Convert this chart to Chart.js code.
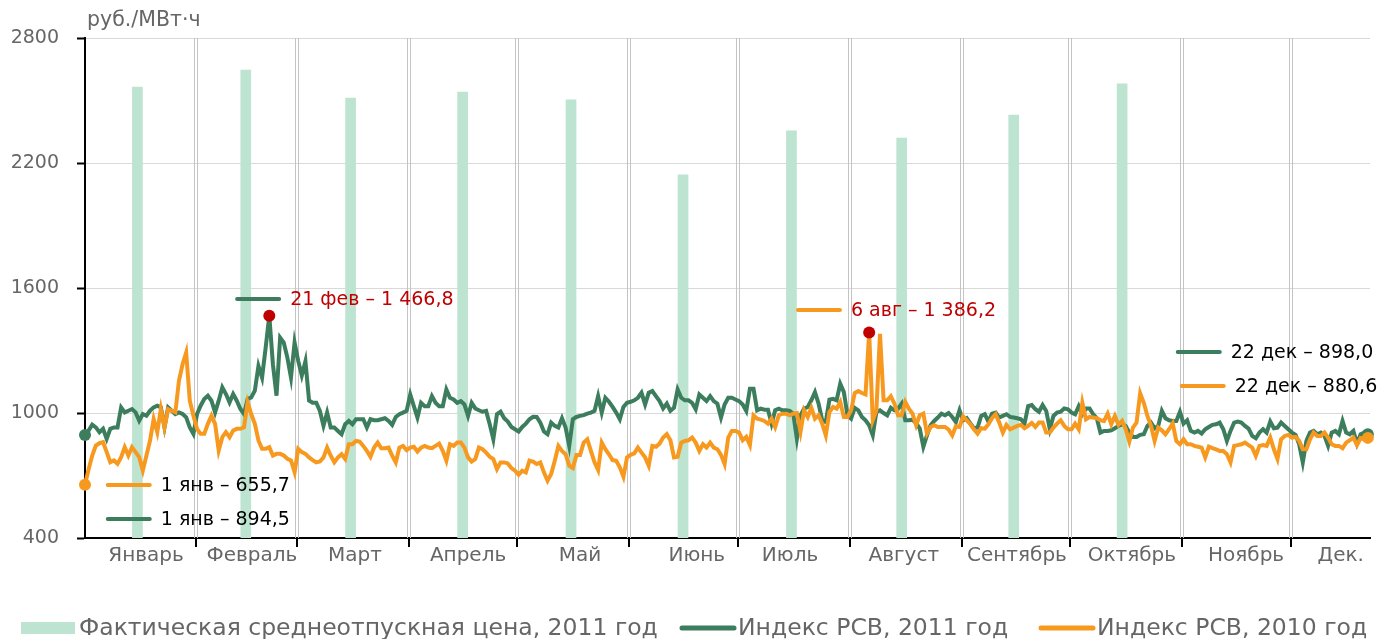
<!DOCTYPE html>
<html><head><meta charset="utf-8">
<script src="https://cdn.jsdelivr.net/npm/chart.js@4.4.1/dist/chart.umd.min.js"></script>
<style>html,body{margin:0;padding:0;background:#fff}#wrap{width:1377px;height:639px;position:relative}</style>
</head><body><div id="wrap"><canvas id="c"></canvas></div>
<script>
const monthNames = ['Январь','Февраль','Март','Апрель','Май','Июнь','Июль','Август','Сентябрь','Октябрь','Ноябрь','Дек.'];
const monthStartDays = [0,31,59,90,120,151,181,212,243,273,304,334];
const monthLabelDays = [16.9,46.2,74.7,106,137,169.3,195.1,226.6,257.9,289.7,321.3,347.5];
const barDays = [14.5,44.5,73.5,104.5,134.5,165.5,195.5,226,257,287];
const barValues = [2565,2646,2512,2541,2503,2143,2354,2320,2430,2580];
const yTicks = [400,1000,1600,2200,2800];

const index2011 = [
894.5,916,944,931,908,924,876,924,931,931,
1027,1003,1011,1019,1003,963,995,987,1011,1027,
1035,1027,931,1027,1011,995,1003,995,979,931,
900,995,1035,1067,1083,1059,1003,1059,1123,1091,
1051,1091,1059,1019,995,1067,1075,1107,1226,1170,
1314,1466.8,1234,1083,1362,1338,1266,1170,1338,1250,
1180,1248,1060,1049,1049,1010,939,1002,930,930,
914,898,946,962,946,970,970,970,930,970,
965,965,970,975,962,943,981,994,1002,1010,
1089,1033,978,1049,1033,1033,1081,1049,1033,1033,
1113,1073,1065,1049,1057,1041,986,1049,1022,1013,
1006,1010,946,874,994,1006,975,959,933,922,
911,933,949,970,982,981,954,911,898,954,
938,930,975,930,842,970,981,986,990,997,
1002,1010,1081,1002,1073,1054,1029,1002,970,1029,
1049,1054,1061,1073,1097,1041,1097,1105,1081,1057,
1022,1045,1010,1025,1113,1073,1061,1061,1049,1018,
1089,1073,1057,1081,1057,1045,978,1041,1073,1073,
1065,1057,1041,1010,1116,1116,1013,1021,1016,1016,
949,1013,1021,1013,1013,1010,997,877,989,1021,
1029,1061,1100,1045,965,957,1064,1068,1061,1140,
1100,989,973,1025,1013,981,965,941,893,1005,
1013,1000,989,1025,1013,1021,1045,965,965,968,
952,925,838,893,941,962,978,997,989,1000,
981,957,1013,965,975,950,927,930,986,994,
959,997,1002,978,986,994,981,978,975,970,
949,1033,1038,1018,1006,1038,1010,922,986,1002,
1006,1022,1018,1002,994,1033,994,1022,1022,994,
975,906,914,914,917,927,938,946,938,906,
885,885,895,898,938,954,927,938,1010,975,
965,962,962,1006,949,965,914,906,914,901,
922,933,943,946,954,922,866,914,954,959,
954,938,925,890,879,906,922,906,959,927,
930,954,938,922,906,895,850,763,866,906,
914,898,906,890,842,906,914,898,962,906,
898,914,853,898,906,898.0];

const index2010 = [
655.7,730,796,844,855,860,812,764,772,756,
788,836,796,836,812,788,724,796,868,971,
908,1019,931,1019,1011,1003,1155,1234,1290,1059,
987,924,900,900,948,987,948,820,884,908,
884,916,924,924,931,1051,995,948,868,828,
828,836,796,804,804,796,780,772,716,828,
812,804,787,774,763,767,787,834,795,763,
787,802,779,850,850,866,863,842,818,790,
834,858,831,831,834,795,763,834,842,822,
834,838,815,834,842,834,831,842,853,818,
771,850,842,858,858,834,787,767,779,834,
826,810,790,779,731,763,763,758,736,723,
704,723,715,771,767,755,763,715,675,707,
771,842,818,802,747,736,799,799,858,874,
818,763,726,858,826,802,774,771,739,694,
787,799,806,834,810,787,747,842,838,853,
882,898,869,787,790,858,866,869,882,858,
818,850,834,858,834,826,799,755,882,914,
914,906,869,885,846,989,973,968,962,949,
973,933,989,997,997,989,997,1000,909,1013,
981,1025,973,989,949,893,1005,1029,1021,1053,
981,981,1013,1096,1105,1096,1089,1386.2,965,1013,
1380,1061,1061,1080,1045,989,989,1053,1021,997,
941,989,997,901,933,941,933,933,933,920,
893,936,933,984,965,946,922,901,927,925,
946,975,994,954,906,943,922,930,938,943,
927,938,952,933,954,954,906,906,930,949,
965,938,922,922,949,922,1049,970,981,978,
975,965,962,997,946,986,943,962,922,863,
930,954,1095,1049,986,938,866,930,917,898,
922,950,866,850,874,850,850,842,838,834,
787,838,831,825,818,818,802,763,842,846,
850,858,846,834,794,842,846,842,882,826,
779,874,890,895,882,885,866,826,826,874,
906,890,890,906,882,850,842,842,831,858,
869,882,846,879,874,880.6];

const peak2011 = 51;   // 21 фев
const peak2010 = 217;  // 6 авг

const seriesNames = ['Фактическая среднеотпускная цена, 2011 год','Индекс РСВ, 2011 год','Индекс РСВ, 2010 год'];
const unitLabel = 'руб./МВт·ч';

const callouts = [
  {day:42.1, value:1547, text:'21 фев – 1 466,8', color:'#C00000', series:1},
  {day:197.3, value:1494, text:'6 авг – 1 386,2', color:'#C00000', series:2},
  {day:6.3, value:654, text:'1 янв – 655,7', color:'#000000', series:2},
  {day:6.3, value:491, text:'1 янв – 894,5', color:'#000000', series:1},
  {day:302.4, value:1293, text:'22 дек – 898,0', color:'#000000', series:1},
  {day:303.5, value:1130, text:'22 дек – 880,6', color:'#000000', series:2}
];

const GREEN = '#3B7D5C', ORANGE = '#F7991E', MINT = '#BDE3D1', RED = '#C00000';
const FONT = 'DejaVu Sans';
const seriesColors = [MINT, GREEN, ORANGE];

function endPoints(last, peak, color) {
  return {
    radius: c => (c.dataIndex === 0 || c.dataIndex === last || c.dataIndex === peak) ? 6 : 0,
    bg: c => c.dataIndex === peak ? RED : color
  };
}
const g = endPoints(index2011.length - 1, peak2011, GREEN);
const o = endPoints(index2010.length - 1, peak2010, ORANGE);

const decor = {
  id: 'decor',
  beforeDatasetsDraw(chart) {
    const {ctx, chartArea: a, scales: {x}} = chart;
    ctx.save();
    ctx.strokeStyle = '#C4C4C4';
    ctx.lineWidth = 1;
    monthStartDays.slice(1).forEach(d => {
      const px = Math.round(x.getPixelForValue(d - 0.4));
      [-1.5, 1.5].forEach(off => {
        ctx.beginPath();
        ctx.moveTo(px + off, a.top);
        ctx.lineTo(px + off, a.bottom);
        ctx.stroke();
      });
    });
    ctx.restore();
  },
  afterDraw(chart) {
    const {ctx, chartArea: a, scales: {x, y}} = chart;
    ctx.save();
    ctx.strokeStyle = '#000';
    ctx.lineWidth = 2;
    monthStartDays.slice(1).forEach(d => {
      const px = Math.round(x.getPixelForValue(d - 0.4));
      ctx.beginPath();
      ctx.moveTo(px, a.bottom);
      ctx.lineTo(px, a.bottom + 9);
      ctx.stroke();
    });
    ctx.fillStyle = '#666';
    ctx.font = '20.5px "' + FONT + '"';
    ctx.textBaseline = 'middle';
    ctx.textAlign = 'left';
    ctx.fillText(unitLabel, a.left + 2, a.top - 17);
    ctx.font = '19px "' + FONT + '"';
    callouts.forEach(c => {
      const px = x.getPixelForValue(c.day);
      const py = y.getPixelForValue(c.value);
      ctx.strokeStyle = seriesColors[c.series];
      ctx.lineWidth = 4;
      ctx.lineCap = 'round';
      ctx.beginPath();
      ctx.moveTo(px, py);
      ctx.lineTo(px + 42, py);
      ctx.stroke();
      ctx.fillStyle = c.color;
      ctx.fillText(c.text, px + 53, py + 1);
    });
    const ly = 628;
    ctx.font = '23.5px "' + FONT + '"';
    const items = [{x:21, type:'rect'}, {x:680, type:'line'}, {x:1039, type:'line'}];
    items.forEach((it, i) => {
      if (it.type === 'rect') {
        ctx.fillStyle = MINT;
        ctx.fillRect(it.x, ly - 6, 54, 12);
      } else {
        ctx.strokeStyle = seriesColors[i];
        ctx.lineWidth = 5;
        ctx.lineCap = 'round';
        ctx.beginPath();
        ctx.moveTo(it.x + 2, ly);
        ctx.lineTo(it.x + 54, ly);
        ctx.stroke();
      }
      ctx.fillStyle = '#666';
      ctx.fillText(seriesNames[i], it.x + 58, ly + 1);
    });
    ctx.restore();
  }
};

new Chart(document.getElementById('c'), {
  type: 'line',
  data: {
    datasets: [
      {type:'bar', label:seriesNames[0], data: barDays.map((d,i)=>({x:d, y:barValues[i]})),
       backgroundColor: MINT, barThickness: 10, order: 3},
      {type:'line', label:seriesNames[1], data: index2011.map((v,i)=>({x:i, y:v})),
       borderColor: GREEN, borderWidth: 4, tension: 0, order: 2, clip: false,
       pointRadius: g.radius, pointBackgroundColor: g.bg, pointBorderWidth: 0, pointHoverRadius: 0},
      {type:'line', label:seriesNames[2], data: index2010.map((v,i)=>({x:i, y:v})),
       borderColor: ORANGE, borderWidth: 4, tension: 0, order: 1, clip: false,
       pointRadius: o.radius, pointBackgroundColor: o.bg, pointBorderWidth: 0, pointHoverRadius: 0}
    ]
  },
  options: {
    responsive: true, maintainAspectRatio: false, animation: false,
    layout: {padding: {left: 0, right: 7, top: 38, bottom: 61}},
    plugins: {legend: {display: false}, tooltip: {enabled: false}},
    scales: {
      x: {
        type: 'linear', min: 0, max: 355.6, offset: false,
        afterBuildTicks: s => { s.ticks = monthLabelDays.map(v => ({value: v})); },
        afterFit: s => { s.height = 40; },
        ticks: {autoSkip: false, maxRotation: 0, padding: -2, color: '#666',
                font: {family: FONT, size: 20},
                callback: (v, i) => monthNames[i]},
        grid: {display: false, offset: false},
        border: {color: '#000', width: 2}
      },
      y: {
        min: 400, max: 2800,
        afterBuildTicks: s => { s.ticks = yTicks.map(v => ({value: v})); },
        afterFit: s => { s.width = 85; },
        ticks: {color: '#666', padding: 18, font: {family: FONT, size: 19},
                callback: v => String(v)},
        grid: {color: '#D9D9D9', lineWidth: 1, tickColor: '#000', tickLength: 8, tickWidth: 2},
        border: {color: '#000', width: 2}
      }
    }
  },
  plugins: [decor]
});
</script></body></html>
